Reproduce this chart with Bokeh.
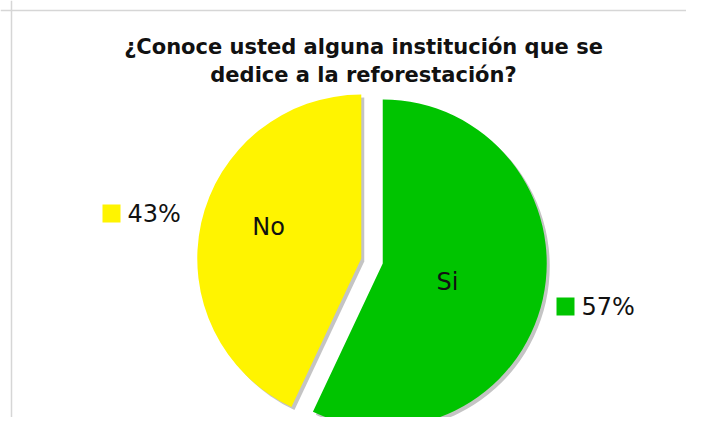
import math
from bokeh.plotting import figure
from bokeh.models import Range1d, Span
from bokeh.core.properties import value
from bokeh.embed import file_html
from bokeh.resources import INLINE

# ---- data ----
categories = ["Si", "No"]
percents = [57, 43]
pct_labels = ["57%", "43%"]
title_lines = ["¿Conoce usted alguna institución que se", "dedice a la reforestación?"]
colors = ["#00c400", "#fff400"]

W, H = 686, 417
p = figure(width=W, height=H, output_backend="svg", toolbar_location=None,
           x_range=Range1d(0, W), y_range=Range1d(0, H),
           x_axis_location=None, y_axis_location=None, min_border=0)
p.grid.visible = False
p.outline_line_color = None
p.background_fill_color = "white"
p.border_fill_color = "white"

def Y(ys):  # pixel y (from top) -> data y
    return H - ys

# frame lines (left & top)
p.add_layout(Span(location=11, dimension="height", line_color="#d6d6d6", line_width=1.5))
p.add_layout(Span(location=Y(10), dimension="width", line_color="#d6d6d6", line_width=1.5))

# title
font = value("DejaVu Sans")
p.text(x=[363, 363], y=[Y(46), Y(74)], text=title_lines, text_font=font,
       text_font_style="bold", text_font_size="21px", text_align="center",
       text_baseline="alphabetic", text_color="#111111")

# pie geometry
cx, cy = 371.5, Y(260.5)
R = 164
explode = 11
total = sum(percents)
start = math.pi / 2
label_pos = [(447, 281), (268, 226)]   # pixel positions of slice names
sq_pos = [(556, 297), (102, 204)]      # pixel top-left of legend squares
for i, (cat, val) in enumerate(zip(categories, percents)):
    sweep = val / total * 2 * math.pi
    end = start - sweep
    mid = (start + end) / 2
    ox = cx + explode * math.cos(mid)
    oy = cy + explode * math.sin(mid)
    # shadow
    p.wedge(x=[ox + 3], y=[oy - 3], radius=R, start_angle=end, end_angle=start,
            fill_color="#c4c4c4", line_color=None)
    p.wedge(x=[ox], y=[oy], radius=R, start_angle=end, end_angle=start,
            fill_color=colors[i], line_color=None)
    lx, ly = label_pos[i]
    p.text(x=[lx], y=[Y(ly)], text=[cat], text_font=font, text_font_size="24px",
           text_align="center", text_baseline="middle", text_color="#111111")
    sx, sy = sq_pos[i]
    p.quad(left=[sx], right=[sx + 18], top=[Y(sy)], bottom=[Y(sy + 18)],
           fill_color=colors[i], line_color=None)
    p.text(x=[sx + 25], y=[Y(sy + 9)], text=[pct_labels[i]], text_font=font,
           text_font_size="24px", text_align="left", text_baseline="middle",
           text_color="#111111")
    start = end

open("out.html", "w").write(file_html(p, INLINE))
